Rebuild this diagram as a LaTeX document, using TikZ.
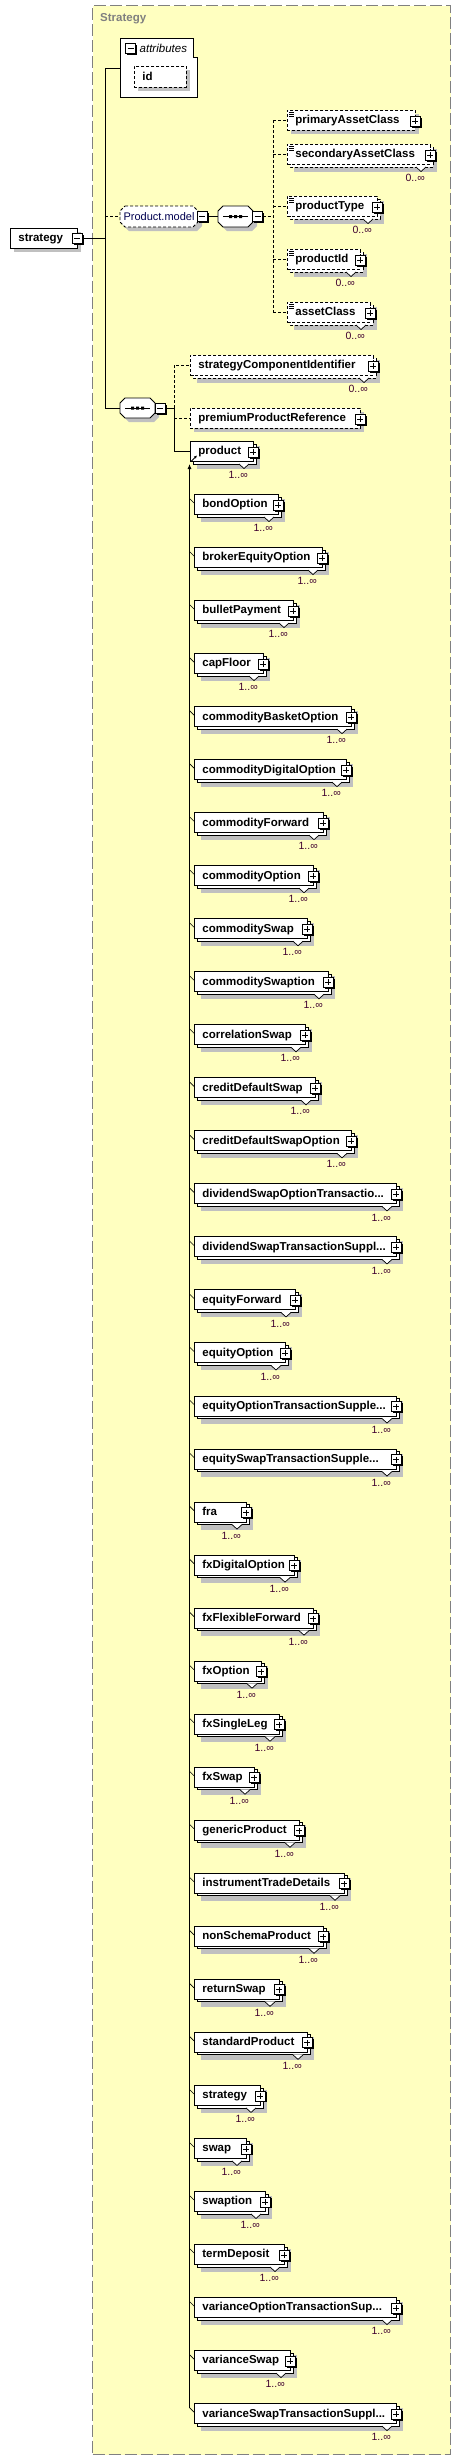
\documentclass[tikz,border=0pt]{standalone}
\usepackage{fontspec}
\setmainfont{Liberation Sans}
\usetikzlibrary{arrows.meta,calc}
\definecolor{yel}{RGB}{255,255,192}
\definecolor{shd}{RGB}{192,192,192}
\definecolor{framec}{RGB}{128,128,128}
\definecolor{multc}{RGB}{64,0,48}
\definecolor{navy}{RGB}{0,0,80}
\newcommand\ddd{...}

\newcommand\pmbox[3]{%
  \fill[black] (#1-3.5,#2-3.5) rectangle (#1+6.5,#2+6.5);
  \filldraw[fill=white,draw=black,line width=0.8pt] (#1-5,#2-5) rectangle (#1+5,#2+5);
  \draw[line width=0.8pt] (#1-3,#2) -- (#1+3,#2);
  \ifnum#3=1 \draw[line width=0.8pt] (#1,#2-3) -- (#1,#2+3);\fi}

\newcommand\octo[6]{%
  \draw[#6] (#1+#5,#2) -- (#3-#5,#2) -- (#3,#2+#5) -- (#3,#4-#5) -- (#3-#5,#4) -- (#1+#5,#4) -- (#1,#4-#5) -- (#1,#2+#5) -- cycle;}

\newcommand\seqsym[2]{% centre x, centre y
  \draw[line width=0.8pt] (#1-12.5,#2) -- (#1+12.5,#2);
  \fill (#1-6.5,#2-1.5) rectangle (#1-3.5,#2+1.5) (#1-1.5,#2-1.5) rectangle (#1+1.5,#2+1.5) (#1+3.5,#2-1.5) rectangle (#1+6.5,#2+1.5);}

\newcommand\linesicon[2]{%
  \draw[line width=0.6pt] (#1+2,#2+2.5) -- (#1+6.5,#2+2.5) (#1+2,#2+4.5) -- (#1+6.5,#2+4.5) (#1+2,#2+6.5) -- (#1+6.5,#2+6.5);}

% name, left x, top y, right R, label, border style, stacked, multiplicity
\newcommand\elem[8]{%
  \pgfmathsetmacro\ex{#2}\pgfmathsetmacro\ey{#3}\pgfmathsetmacro\eR{#4}%
  \pgfmathsetmacro\tw{#4-#2-16}%
  \ifnum#7=1
    \fill[shd] (\ex+7,\ey+5) rectangle (\eR+7,\ey+28);
    \filldraw[fill=white,line width=0.8pt,#6] (\ex+3,\ey+3) rectangle (\eR+3,\ey+23);
  \else
    \fill[shd] (\ex+4,\ey+4) rectangle (\eR+4,\ey+24);
  \fi
  \node[elbox,#6,anchor=north west] (#1) at (\ex,\ey) {\makebox[\tw pt][l]{#5}};
  \ifnum#7=1
    \fill[white] (\eR-14,\ey+22.6) -- (\eR-9,\ey+27.5) -- (\eR-4,\ey+22.6) -- cycle;
    \draw[line width=0.7pt] (\eR-14,\ey+23) -- (\eR-9,\ey+27.5) -- (\eR-4,\ey+23);
  \fi
  \pmbox{\eR}{\ey+11}{1}
  \ifx\relax#8\relax\else \node[mult,anchor=east] at (\eR-5,\ey+34) {#8};\fi
}

\begin{document}
\begin{tikzpicture}[x=1pt,y=-1pt,
  ln/.style={line width=0.8pt},
  dsh/.style={dash pattern=on 3pt off 2pt},
  elbox/.style={draw, fill=white, line width=0.8pt, inner xsep=8pt, inner ysep=0pt,
    minimum height=20pt, text height=8.5pt, text depth=1.5pt,
    font=\bfseries\fontsize{11.5}{13}\selectfont},
  mult/.style={font=\fontsize{10.5}{12}\selectfont, text=multc, inner sep=0pt}]
\useasboundingbox (0,0) rectangle (461,2460);
\fill[white] (0,0) rectangle (461,2460);

% container
\node[draw=framec, fill=yel, line width=1pt, dash pattern=on 12pt off 4pt,
  minimum width=358pt, minimum height=2449pt, anchor=north west, inner sep=0pt] (frame) at (92,5) {};
\node[anchor=west, text=framec, font=\bfseries\fontsize{11.5}{13}\selectfont, inner sep=0pt] (title) at (100,19) {Strategy};

% root element
\fill[shd] (14,232) rectangle (81,252);
\node[elbox,anchor=north west] (root) at (10,228) {\makebox[51pt][l]{strategy}};
\pmbox{77}{238.5}{0}

% main vertical
\coordinate (vtop) at (105,68);
\coordinate (vmid) at (105,216.5);
\coordinate (vbot) at (105,408);
\coordinate (rootout) at (82,238);
\draw[ln] (rootout) -- (rootout -| vtop);
\draw[ln] (vtop) -- (vbot);

% attributes
\node[inner sep=0pt, minimum width=77pt, minimum height=59pt, anchor=north west] (attrs) at (120,38) {};
\filldraw[fill=white,line width=0.8pt] (120,38) -- (193,38) -- (193,57) -- (197,57) -- (197,97) -- (120,97) -- cycle;
\pmbox{130.5}{48.5}{0}
\node[anchor=west, inner sep=0pt, font=\itshape\fontsize{11.5}{13}\selectfont] (attrlab) at (139.5,48.5) {attributes};
\fill[shd] (138,70) rectangle (190,91);
\node[elbox,dsh,anchor=north west,minimum height=21pt] (id) at (134,66) {\makebox[36pt][l]{id}};
\draw[ln] (vtop) -- (attrs.west |- vtop);

% Product.model group
\octo{124}{210}{202}{231}{5}{fill=shd,draw=none}
\octo{120}{206}{198}{227}{5}{fill=white,draw=black,line width=0.8pt,dash pattern=on 3pt off 2pt}
\node[font=\fontsize{11}{13}\selectfont, text=navy, inner sep=0pt] (pm) at (159,216.5) {Product.model};
\pmbox{202}{216.5}{0}
\draw[ln,dsh] (vmid) -- (120,216.5);

% sequence 1
\octo{222}{210}{257}{231}{5}{fill=shd,draw=none}
\octo{218}{206}{253}{227}{5}{fill=white,draw=black,line width=0.8pt}
\node[inner sep=0pt, minimum width=35pt, minimum height=21pt] (seq1) at (235.5,216.5) {};
\seqsym{235.5}{216.5}
\pmbox{257.5}{216.5}{0}
\draw[ln] (207,216.5) -- (seq1.west);

\elem{pac}{287}{110}{415}{primaryAssetClass}{dsh}{0}{}
\elem{sac}{287}{144}{430}{secondaryAssetClass}{dsh}{1}{0..∞}
\elem{ptype}{287}{196}{377}{productType}{dsh}{1}{0..∞}
\elem{pid}{287}{249}{360}{productId}{dsh}{1}{0..∞}
\elem{acl}{287}{302}{370}{assetClass}{dsh}{1}{0..∞}
\linesicon{287}{110}
\linesicon{287}{144}
\linesicon{287}{196}
\linesicon{287}{249}
\linesicon{287}{302}

\coordinate (c1) at (273,216.5);
\draw[ln,dsh] (262.5,216.5) -- (c1);
\draw[ln,dsh] (273,120) -- (273,312);
\foreach \n in {pac,sac,ptype,pid,acl}{
  \draw[ln,dsh] (\n.west -| c1) -- (\n.west);
}

% sequence 2
\octo{124}{402}{159}{422}{5}{fill=shd,draw=none}
\octo{120}{398}{155}{418}{5}{fill=white,draw=black,line width=0.8pt}
\node[inner sep=0pt, minimum width=35pt, minimum height=20pt] (seq2) at (137.5,408) {};
\seqsym{137.5}{408}
\pmbox{160}{408.5}{0}
\draw[ln] (vbot) -- (seq2.west);

\elem{sci}{190}{355}{373}{strategyComponentIdentifier}{dsh}{1}{0..∞}
\elem{ppr}{190}{408}{360}{premiumProductReference}{dsh}{0}{}
\elem{product}{190}{441}{253}{product}{solid}{1}{1..∞}
\draw[line width=0.8pt,-{Latex[length=3pt,width=3pt]}] (191.5,461) -- (197,455.5);

\coordinate (c2) at (174,408);
\draw[ln] (165,408) -- (c2);
\draw[ln,dsh] (c2) -- (sci.west -| c2) -- (sci.west);
\draw[ln,dsh] (ppr.west -| c2) -- (ppr.west);
\draw[ln] (c2) -- (product.west -| c2) -- (product.west);

% substitution group members
\coordinate (subtop) at (189.5,464);
\coordinate (subbot) at (189.5,2407.5);
\draw[line width=0.8pt,{Latex[length=5pt,width=4pt]}-] (subtop) -- (subbot);

\foreach \lab/\R [count=\i from 0] in {
 bondOption/278, brokerEquityOption/322, bulletPayment/293, capFloor/263,
 commodityBasketOption/351, commodityDigitalOption/346, commodityForward/323,
 commodityOption/313, commoditySwap/307, commoditySwaption/328,
 correlationSwap/305, creditDefaultSwap/315, creditDefaultSwapOption/351,
 dividendSwapOptionTransactio\ddd/396, dividendSwapTransactionSuppl\ddd/396,
 equityForward/295, equityOption/285, equityOptionTransactionSupple\ddd/396,
 equitySwapTransactionSupple\ddd/396, fra/246, fxDigitalOption/294,
 fxFlexibleForward/313, fxOption/261, fxSingleLeg/279, fxSwap/254,
 genericProduct/299, instrumentTradeDetails/344, nonSchemaProduct/323,
 returnSwap/279, standardProduct/307, strategy/260, swap/246, swaption/265,
 termDeposit/284, varianceOptionTransactionSup\ddd/396, varianceSwap/290,
 varianceSwapTransactionSuppl\ddd/396}{
  \pgfmathsetmacro\yy{494+53.03*\i}
  \elem{m\i}{194}{\yy}{\R}{\lab}{solid}{1}{1..∞}
  \coordinate (s\i) at (189.5,\yy+4.5);
  \draw[line width=0.6pt] (s\i) -- ($(m\i.north west)+(0,9)$);
}
\end{tikzpicture}
\end{document}
